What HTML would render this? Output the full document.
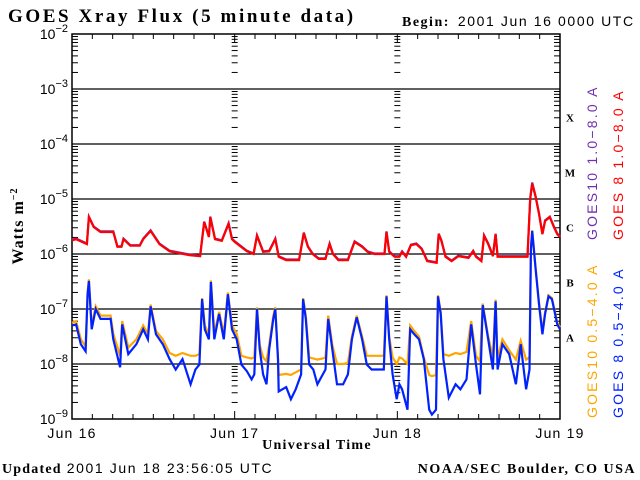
<!DOCTYPE html>
<html><head><meta charset="utf-8"><style>
body{margin:0;background:#fff;}
svg{display:block;}
.t{font-family:"Liberation Serif",serif;font-weight:bold;}
.s{font-family:"Liberation Sans",sans-serif;}
</style></head><body>
<svg id="c" width="640" height="480" viewBox="0 0 640 480">
<text class="t" x="8" y="22" font-size="19" letter-spacing="2.6">GOES Xray Flux (5 minute data)</text>
<text x="402" y="26" font-size="14"><tspan class="t" letter-spacing="1.5">Begin:</tspan><tspan class="s" dx="8" letter-spacing="1.6">2001 Jun 16 0000 UTC</tspan></text>
<text class="t" x="0" y="0" font-size="16" letter-spacing="1" transform="translate(23,226) rotate(-90)" text-anchor="middle">Watts m<tspan font-size="10" dy="-6">−2</tspan></text>
<text class="t" x="317" y="449" font-size="14" letter-spacing="1.3" text-anchor="middle">Universal Time</text>
<text x="2" y="473" font-size="14"><tspan class="t" letter-spacing="1.2">Updated</tspan><tspan class="s" dx="5" letter-spacing="1.6">2001 Jun 18 23:56:05 UTC</tspan></text>
<text class="t" x="636" y="473" font-size="14" letter-spacing="1.5" text-anchor="end">NOAA/SEC Boulder, CO USA</text>
<g class="s" font-size="14" letter-spacing="2.2">
<text transform="translate(597,240) rotate(-90)" fill="#7030b0">GOES10 1.0−8.0 A</text>
<text transform="translate(623,240) rotate(-90)" fill="#ff0000">GOES 8 1.0−8.0 A</text>
<text transform="translate(597,418) rotate(-90)" fill="#ffa500">GOES10 0.5−4.0 A</text>
<text transform="translate(623,418) rotate(-90)" fill="#0022ff">GOES 8 0.5−4.0 A</text>
</g>
<g id="axes"></g>
<g id="series"></g>
</svg>
<script>
// hours since 2001 Jun 16 00:00 and log10 flux values
const longHours=[0,0.6,2.2,2.5,3.2,4.2,6.1,6.7,7.3,7.6,8.6,10,10.5,11.6,12.9,14.4,17.3,18.9,19.5,20.2,20.4,21.1,22.1,23.1,23.6,24,25.8,26.8,27.3,28.2,29.1,30,30.5,31.6,33.5,34.2,34.8,35.5,36.4,37.4,38,38.5,39.3,40.7,41.7,42.8,43.6,44.6,46.1,46.4,46.8,47.6,48.3,48.7,49.3,50,50.8,51.6,52.4,53.8,54.1,54.5,55.1,56,57,58.5,59.2,59.6,60.4,60.8,61.4,62.1,62.5,62.8,67.2,67.6,67.9,68.4,68.9,69.4,69.8,70.5,71.1,71.6,72];
const goes8Long=[-5.75,-5.73,-5.82,-5.33,-5.51,-5.60,-5.60,-5.87,-5.87,-5.73,-5.85,-5.85,-5.73,-5.58,-5.82,-5.95,-6.02,-6.04,-5.42,-5.69,-5.33,-5.73,-5.76,-5.45,-5.73,-5.78,-5.95,-6.0,-5.67,-5.96,-5.95,-5.73,-6.05,-6.11,-6.11,-5.62,-5.87,-6.0,-6.09,-6.09,-5.82,-6.0,-6.11,-6.11,-5.78,-5.87,-5.96,-6.0,-6.0,-5.60,-5.96,-6.05,-6.05,-5.96,-6.05,-5.84,-5.82,-5.91,-6.13,-6.16,-5.64,-5.76,-6.05,-6.13,-6.04,-6.07,-5.95,-6.05,-6.13,-5.67,-5.82,-6.04,-5.64,-6.05,-6.05,-5.0,-4.72,-4.96,-5.27,-5.64,-5.40,-5.33,-5.51,-5.64,-5.69];
const goes10Long=[-5.74,-5.72,-5.81,-5.32,-5.50,-5.59,-5.59,-5.86,-5.86,-5.72,-5.84,-5.84,-5.72,-5.57,-5.81,-5.94,-6.01,-6.03,-5.41,-5.68,-5.32,-5.72,-5.75,-5.44,-5.72,-5.77,-5.94,-5.99,-5.66,-5.95,-5.94,-5.72,-6.04,-6.10,-6.10,-5.61,-5.86,-5.99,-6.08,-6.08,-5.81,-5.99,-6.10,-6.10,-5.77,-5.86,-5.95,-5.99,-5.99,-5.59,-5.95,-6.04,-6.04,-5.95,-6.04,-5.83,-5.81,-5.90,-6.12,-6.15,-5.63,-5.75,-6.04,-6.12,-6.03,-6.06,-5.94,-6.04,-6.12,-5.66,-5.81,-6.03,-5.63,-6.04,-6.04,-4.99,-4.70,-4.95,-5.26,-5.63,-5.39,-5.32,-5.50,-5.63,-5.68];
const shortHours=[0,0.6,1.3,2,2.3,2.5,2.9,3.5,4.2,5.7,6.1,7.1,7.4,8.3,9.5,10.5,11.2,11.6,12.4,13.4,14.4,15.3,16.3,17.5,18.2,18.8,19.2,19.6,20.2,20.5,21,21.7,22.4,23,23.6,24.3,25,25.8,26.5,26.9,27.3,27.7,28.2,28.7,29.1,29.7,30,30.4,30.5,31.6,32.3,33,33.8,34.1,34.5,35,35.6,36.2,37,37.4,37.8,38.4,39.1,40,40.7,41.3,42,42.8,43.5,44.2,46,46.4,46.8,47.3,47.9,48.3,48.7,49.5,49.9,50.5,51.2,51.9,52.7,53.1,53.7,54,54.4,54.8,55.6,56.6,57.3,58.2,58.9,59.6,60.2,60.6,61.4,62.1,62.5,62.8,63.5,64.5,65.5,66.2,67,67.5,67.7,67.9,68.4,68.9,69.4,69.8,70.3,70.8,71.6,72];
const goes8Short=[-7.30,-7.28,-7.64,-7.77,-6.73,-6.49,-7.37,-7.00,-7.18,-7.18,-7.55,-8.06,-7.28,-7.82,-7.64,-7.37,-7.55,-6.95,-7.46,-7.64,-7.91,-8.10,-7.91,-8.37,-8.10,-8.01,-6.82,-7.37,-7.55,-6.51,-7.55,-7.09,-7.55,-6.73,-7.37,-7.55,-8.01,-8.13,-8.28,-8.19,-7.00,-7.73,-8.19,-8.37,-7.73,-7.18,-7.00,-7.91,-8.50,-8.42,-8.64,-8.46,-8.19,-6.82,-7.18,-8.01,-8.10,-8.37,-8.19,-8.10,-7.18,-7.73,-8.37,-8.37,-8.19,-7.55,-7.15,-7.55,-8.01,-8.10,-8.10,-6.77,-7.55,-8.19,-8.64,-8.37,-8.46,-8.83,-7.37,-7.46,-7.55,-7.91,-8.83,-8.92,-8.83,-6.77,-7.09,-7.91,-8.61,-8.37,-8.46,-8.28,-7.28,-8.01,-8.55,-6.93,-7.55,-8.10,-6.86,-8.10,-7.64,-7.82,-8.37,-7.64,-8.46,-8.10,-5.91,-5.58,-6.27,-6.91,-7.46,-7.09,-6.77,-6.82,-7.28,-7.37];
const goes10Short=[-7.25,-7.22,-7.55,-7.68,-6.70,-6.46,-7.30,-6.95,-7.12,-7.12,-7.45,-7.85,-7.22,-7.70,-7.55,-7.30,-7.45,-6.92,-7.40,-7.55,-7.80,-7.85,-7.80,-7.85,-7.85,-7.82,-6.80,-7.30,-7.45,-6.48,-7.45,-7.05,-7.45,-6.70,-7.30,-7.45,-7.85,-7.88,-7.90,-7.88,-6.97,-7.65,-7.88,-7.95,-7.65,-7.12,-6.97,-7.90,-8.20,-8.18,-8.20,-8.15,-8.10,-6.80,-7.12,-7.88,-7.90,-7.92,-7.90,-7.88,-7.12,-7.65,-8.00,-8.00,-7.98,-7.50,-7.12,-7.50,-7.85,-7.85,-7.85,-6.75,-7.50,-7.88,-8.00,-7.88,-7.90,-8.00,-7.30,-7.40,-7.50,-7.88,-8.20,-8.22,-8.20,-6.75,-7.05,-7.82,-7.85,-7.80,-7.82,-7.78,-7.22,-7.85,-7.95,-6.90,-7.50,-7.88,-6.83,-7.90,-7.55,-7.75,-7.92,-7.58,-7.92,-7.88,-5.90,-5.57,-6.25,-6.88,-7.40,-7.05,-6.75,-6.80,-7.25,-7.33];
const yTicks=[-2,-3,-4,-5,-6,-7,-8,-9];
const dayLabels=["Jun 16","Jun 17","Jun 18","Jun 19"];
const classLabels=["X","M","C","B","A"];

const NS="http://www.w3.org/2000/svg";
const X0=72,X1=560,Y0=34,Y1=419;
const xs=h=>X0+(h/72)*(X1-X0);
const ys=l=>Y0+(-2-l)*(Y1-Y0)/7;
const axes=document.getElementById('axes');
const ser=document.getElementById('series');
function mk(tag,attrs,parent){const e=document.createElementNS(NS,tag);for(const k in attrs)e.setAttribute(k,attrs[k]);parent.appendChild(e);return e;}

const fr=mk('rect',{x:X0,y:Y0,width:X1-X0,height:Y1-Y0,fill:'none',stroke:'#000','stroke-width':1.5},axes);


yTicks.forEach(l=>{
  const y=ys(l);
  if(l<-2&&l>-9){const ln=mk('line',{x1:X0,x2:X1,y1:y,y2:y,stroke:'#000','stroke-width':1.3},axes);
    
    }
  const t=mk('text',{x:X0-4,y:y+5,'font-size':14,'text-anchor':'end','font-family':'Liberation Sans, sans-serif'},axes);
  
  
  t.innerHTML='10<tspan font-size="11" dy="-7">−'+(-l)+'</tspan>';
  if(l>-9){for(let m=2;m<=9;m++){const yy=ys(l-1+Math.log10(m));
    [[X0,X0+6],[X1-6,X1],[xs(24)-3,xs(24)+3],[xs(48)-3,xs(48)+3]].forEach(p=>{
      const tk=mk('line',{x1:p[0],x2:p[1],y1:yy,y2:yy,stroke:'#000','stroke-width':1},axes);
      
      });}}
});
for(let h=3;h<72;h+=3){const x=xs(h);const len=(h%24===0)?8:5;
  [[Y0,Y0+len],[Y1-len,Y1]].forEach(p=>{const tk=mk('line',{x1:x,x2:x,y1:p[0],y2:p[1],stroke:'#000','stroke-width':1},axes);
  
  });}
dayLabels.forEach((d,i)=>{const t=mk('text',{x:xs(i*24),y:438,'font-size':14,'letter-spacing':1.2,'text-anchor':'middle','font-family':'Liberation Sans, sans-serif'},axes);
  
  
  t.textContent=d;});
classLabels.forEach((c,i)=>{const t=mk('text',{x:570,y:ys(-3.5-i)+5,'font-size':11,'text-anchor':'middle','font-family':'Liberation Serif, serif','font-weight':'bold'},axes);
  
  
  t.textContent=c;});

function line(hours,vals,color,name){
  const pts=hours.map((h,i)=>xs(h).toFixed(1)+','+ys(vals[i]).toFixed(1)).join(' ');
  const p=mk('polyline',{points:pts,fill:'none',stroke:color,'stroke-width':2.2,'stroke-linejoin':'miter'},ser);
  
  
}
line(shortHours,goes10Short,'#ffa500','goes10-short-series');
line(shortHours,goes8Short,'#0022ff','goes8-short-series');
line(longHours,goes10Long,'#7030b0','goes10-long-series');
line(longHours,goes8Long,'#ff0000','goes8-long-series');
</script>
</body></html>
